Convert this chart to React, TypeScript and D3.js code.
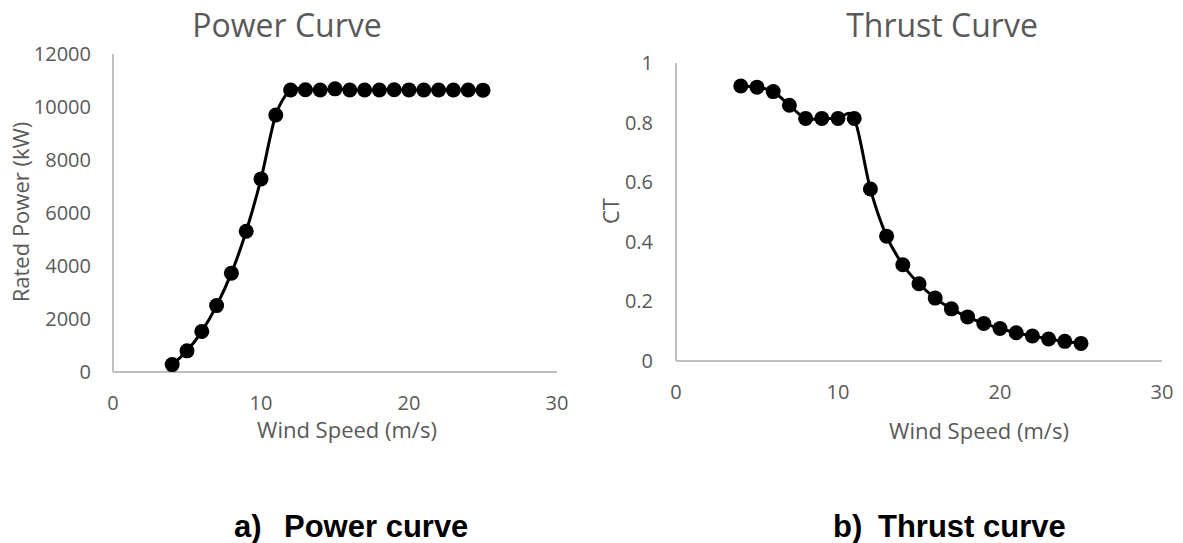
import React from "react";
import * as d3 from "d3";

const windSpeed = [4, 5, 6, 7, 8, 9, 10, 11, 12, 13, 14, 15, 16, 17, 18, 19, 20, 21, 22, 23, 24, 25];
const powerKW = [280, 799, 1533, 2506, 3731, 5312, 7287, 9698, 10639, 10649, 10639, 10684, 10642, 10640, 10640, 10653, 10646, 10644, 10641, 10640, 10644, 10636];
const thrustCt = [0.923, 0.919, 0.904, 0.858, 0.814, 0.814, 0.814, 0.814, 0.577, 0.419, 0.323, 0.259, 0.211, 0.175, 0.148, 0.126, 0.109, 0.095, 0.084, 0.074, 0.066, 0.059];
const xTicks = [0, 10, 20, 30];
const powerTicks = [0, 2000, 4000, 6000, 8000, 10000, 12000];
const ctTicks = [0, 0.2, 0.4, 0.6, 0.8, 1];

const GRAY = "#595959";
const AXIS = "#BFBFBF";
const FONT = "'Open Sans', sans-serif";

type PanelProps = {
  title: string;
  titleX: number;
  yTitle: string;
  yTitleX: number;
  yTitleY: number;
  xTitleX: number;
  xTitleY: number;
  x: d3.ScaleLinear<number, number>;
  y: d3.ScaleLinear<number, number>;
  yTicks: number[];
  yLabelRight: number;
  xLabelBaseline: number;
  values: number[];
};

function Panel(p: PanelProps) {
  const [x0, x1] = p.x.range();
  const [y0, y1] = p.y.range();
  const pts: [number, number][] = windSpeed.map((w, i) => [p.x(w), p.y(p.values[i])]);
  const line = d3.line().curve(d3.curveCatmullRom.alpha(0))(pts) || "";
  return (
    <g>
      <text x={p.titleX} y={37} textAnchor="middle" fontFamily={FONT} fontSize={32} fill={GRAY}>{p.title}</text>
      <line x1={x0} x2={x1} y1={y0} y2={y0} stroke={AXIS} strokeWidth={2} />
      <line x1={x0} x2={x0} y1={y0} y2={y1} stroke={AXIS} strokeWidth={2} />
      {p.yTicks.map((t) => (
        <text key={"y" + t} x={p.yLabelRight} y={p.y(t) + 7} textAnchor="end" fontFamily={FONT} fontSize={20} fill={GRAY}>{String(t)}</text>
      ))}
      {xTicks.map((t) => (
        <text key={"x" + t} x={p.x(t)} y={p.xLabelBaseline} textAnchor="middle" fontFamily={FONT} fontSize={20} fill={GRAY}>{String(t)}</text>
      ))}
      <text x={p.xTitleX} y={p.xTitleY} textAnchor="middle" fontFamily={FONT} fontSize={22} fill={GRAY}>Wind Speed (m/s)</text>
      <text transform={`translate(${p.yTitleX},${p.yTitleY}) rotate(-90)`} textAnchor="middle" fontFamily={FONT} fontSize={22} fill={GRAY}>{p.yTitle}</text>
      <path d={line} fill="none" stroke="#000" strokeWidth={3} />
      {pts.map(([cx, cy], i) => (
        <circle key={i} cx={cx} cy={cy} r={7.5} fill="#000" />
      ))}
    </g>
  );
}

export default function App() {
  const xL = d3.scaleLinear().domain([0, 30]).range([113, 557]);
  const yL = d3.scaleLinear().domain([0, 12000]).range([372, 54]);
  const xR = d3.scaleLinear().domain([0, 30]).range([676, 1162]);
  const yR = d3.scaleLinear().domain([0, 1]).range([361, 63]);
  const capFont = "'Liberation Sans', Arial, sans-serif";
  return (
    <svg width={1183} height={543} style={{ position: "absolute", left: 0, top: 0, background: "#fff" }}>
      <rect width={1183} height={543} fill="#fff" />
      <Panel title="Power Curve" titleX={287} yTitle="Rated Power (kW)" yTitleX={29} yTitleY={212}
        xTitleX={347} xTitleY={438} x={xL} y={yL} yTicks={powerTicks} yLabelRight={91} xLabelBaseline={410} values={powerKW} />
      <Panel title="Thrust Curve" titleX={942} yTitle="CT" yTitleX={619} yTitleY={211}
        xTitleX={979} xTitleY={439} x={xR} y={yR} yTicks={ctTicks} yLabelRight={653} xLabelBaseline={399} values={thrustCt} />
      <text x={234} y={537} fontFamily={capFont} fontWeight="bold" fontSize={31} fill="#000">a)</text>
      <text x={284} y={537} fontFamily={capFont} fontWeight="bold" fontSize={31} fill="#000">Power curve</text>
      <text x={833} y={537} fontFamily={capFont} fontWeight="bold" fontSize={31} fill="#000">b)</text>
      <text x={878} y={537} fontFamily={capFont} fontWeight="bold" fontSize={31} fill="#000">Thrust curve</text>
    </svg>
  );
}
